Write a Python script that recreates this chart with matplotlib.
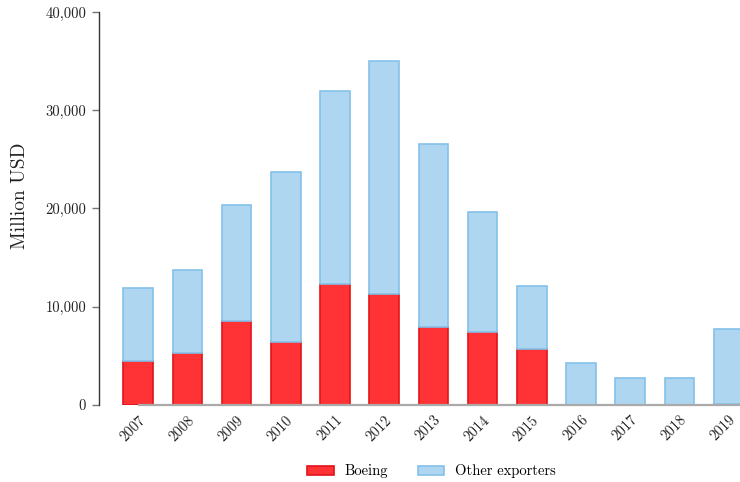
import numpy as np
import matplotlib
matplotlib.use("Agg")
import matplotlib.pyplot as plt
from matplotlib.ticker import FuncFormatter

plt.rcParams['font.family'] = ['cmr10', 'DejaVu Serif']
plt.rcParams['axes.formatter.use_mathtext'] = True

# data (million USD)
years = ['2007', '2008', '2009', '2010', '2011', '2012', '2013',
         '2014', '2015', '2016', '2017', '2018', '2019']
boeing = [4480, 5260, 8550, 6410, 12310, 11260, 7970,
          7430, 5700, 0, 20, 0, 40]
total = [11930, 13760, 20380, 23730, 31940, 35030, 26550,
         19600, 12070, 4300, 2780, 2710, 7700]
others = [t - b for t, b in zip(total, boeing)]

fig = plt.figure(figsize=(7.4, 4.82), dpi=100)
ax = fig.add_axes([0.1334, 0.16, 0.8666, 0.815])

x = np.arange(len(years))
ax.bar(x, boeing, width=0.6, color='#ff3236', edgecolor='#e0141a',
       linewidth=1.2, label='Boeing')
ax.bar(x, others, width=0.6, bottom=boeing, color='#aed6f1',
       edgecolor='#85c1e9', linewidth=1.2, label='Other exporters')

# grey baseline
ax.plot([0, 12.6], [0, 0], color='#aaaaaa', lw=1.6, zorder=5,
        solid_capstyle='butt', clip_on=False)

ax.set_xlim(-0.80, 12.23)
ax.set_ylim(0, 40000)
ax.set_yticks([0, 10000, 20000, 30000, 40000])
ax.yaxis.set_major_formatter(FuncFormatter(lambda v, p: f"{int(v):,}"))
ax.set_xticks(x)
ax.set_xticklabels(years, rotation=45, ha='right', rotation_mode='anchor')

for s in ['top', 'right', 'bottom']:
    ax.spines[s].set_visible(False)
ax.spines['left'].set_color('#333333')
ax.spines['left'].set_linewidth(1.0)
ax.tick_params(axis='y', length=5, width=1, color='#777777',
               labelsize=10.5, pad=4, labelcolor='#222222')
ax.tick_params(axis='x', length=0, labelsize=10.5, pad=6,
               labelcolor='#222222')
ax.set_ylabel('Million USD', fontsize=14, color='#222222')
ax.yaxis.set_label_coords(-0.109, 0.532)

ax.legend(loc='upper center', bbox_to_anchor=(0.519, -0.118), ncol=2,
          frameon=False, fontsize=10.5, handlelength=1.85, handleheight=0.55,
          columnspacing=2.0, handletextpad=0.75)

fig.savefig('out.png', dpi=100)
